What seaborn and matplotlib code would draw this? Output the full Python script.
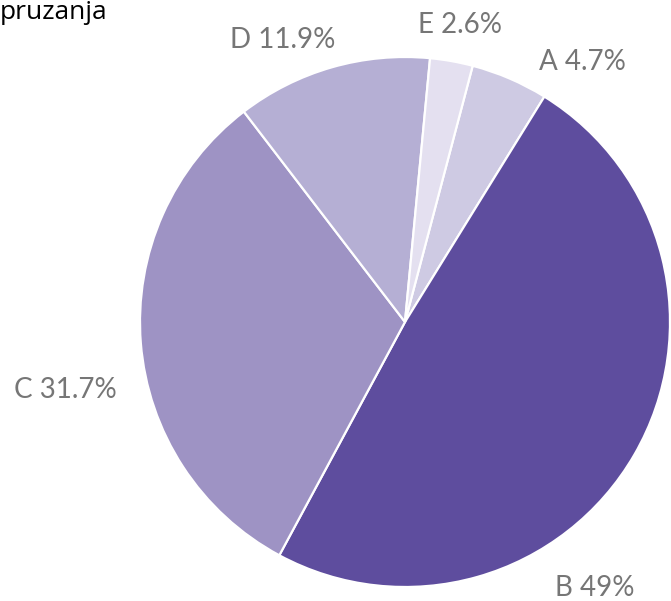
import matplotlib
matplotlib.use("Agg")
import matplotlib.pyplot as plt
import seaborn as sns

categories = ["A", "B", "C", "D", "E"]
values = [4.7, 49.0, 31.7, 11.9, 2.6]
value_labels = ["4.7%", "49%", "31.7%", "11.9%", "2.6%"]
colors = ["#cecae3", "#5e4d9e", "#9e93c4", "#b5afd4", "#e4e0f0"]
title_text = "pruzanja"

sns.set_theme(style="white")
plt.rcParams['font.family'] = ['Lato', 'DejaVu Sans']

W, H = 671, 601
fig = plt.figure(figsize=(W / 100, H / 100), dpi=100)
cx, cy, r = 405, 322, 265
ax = fig.add_axes([(cx - r) / W, (H - cy - r) / H, 2 * r / W, 2 * r / H])

labels = [f"{c} {v}" for c, v in zip(categories, value_labels)]
wedges, texts = ax.pie(values, labels=labels, colors=colors, startangle=90 - 14.8,
                       counterclock=False, radius=1,
                       wedgeprops=dict(edgecolor="white", linewidth=1.6),
                       textprops=dict(color="#767676", fontsize=20))
ax.set_xlim(-1, 1)
ax.set_ylim(-1, 1)
ax.set_aspect("equal")
ax.axis("off")

# label placement (pixel positions of label centres in the layout)
label_px = [(582, 62), (595, 588), (65, 390), (283, 40), (460, 25)]
for t, (px, py) in zip(texts, label_px):
    t.set_position(((px - cx) / r, (cy - py) / r))
    t.set_ha("center")
    t.set_va("center")
    t.set_clip_on(False)

fig.text(0, 1 - 19 / H, title_text, fontsize=19, color="black",
         family=["Open Sans", "DejaVu Sans"], ha="left", va="baseline")

fig.savefig("out.png", dpi=100)
